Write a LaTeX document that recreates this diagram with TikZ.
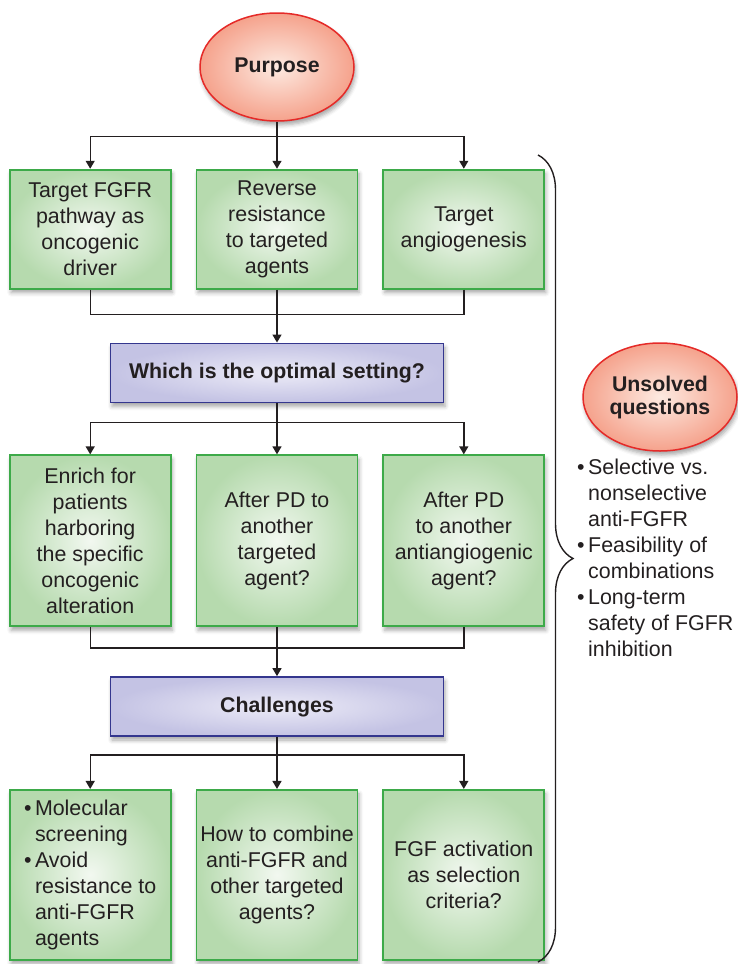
\documentclass[tikz,border=0pt]{standalone}
\usepackage{fontspec}
\setmainfont{Liberation Sans}
\usepackage{xcolor}
\usetikzlibrary{shapes.geometric, arrows.meta, positioning, shadows.blur, decorations.pathreplacing}

\definecolor{inkc}{RGB}{35,31,32}
\definecolor{greenedge}{RGB}{61,170,73}
\definecolor{greenin}{RGB}{242,248,240}
\definecolor{greenout}{RGB}{182,218,174}
\definecolor{violetedge}{RGB}{52,54,142}
\definecolor{violetin}{RGB}{236,235,247}
\definecolor{violetout}{RGB}{196,195,228}
\definecolor{rededge}{RGB}{229,42,40}
\definecolor{redin}{RGB}{253,234,225}
\definecolor{redout}{RGB}{245,162,140}

\newcommand{\qbullet}{\makebox[11pt][l]{\textbullet}}
\newcommand{\qindent}{\hspace*{11pt}}

\begin{document}
\begin{tikzpicture}[
  node distance=51pt and 24pt,
  every node/.style={text=inkc, font=\fontsize{21.4pt}{26pt}\selectfont},
  soft/.style={blur shadow={shadow xshift=1.5pt, shadow yshift=-4pt, shadow blur radius=4pt, shadow opacity=35}},
  box/.style={draw=greenedge, line width=1.8pt, shading=radial, inner color=greenin, outer color=greenout, minimum width=161pt, align=center, inner sep=2pt, soft},
  qbox/.style={draw=violetedge, line width=1.8pt, shading=radial, inner color=violetin, outer color=violetout, minimum width=333pt, minimum height=59pt, font=\fontsize{21.3pt}{23pt}\selectfont\bfseries, soft},
  oval/.style={ellipse, draw=rededge, line width=1.5pt, shading=radial, inner color=redin, outer color=redout, minimum width=154pt, minimum height=108pt, align=center, inner sep=0pt, font=\fontsize{21.3pt}{23pt}\selectfont\bfseries, soft},
  arr/.style={-{Triangle[width=9pt,length=8pt]}, line width=1.4pt, draw=inkc},
  link/.style={line width=1.4pt, draw=inkc},
  brace/.style={decorate, decoration={brace, amplitude=35pt}, line width=1.4pt, draw=inkc}
]
\useasboundingbox (0,0) rectangle (738pt,-964pt);

\node[oval] (purpose) at (277pt,-67pt) {Purpose};

\node[box, minimum height=119pt, below=47pt of purpose] (t2) {Reverse\\resistance\\to targeted\\agents};
\node[box, minimum height=119pt, left=of t2] (t1) {Target FGFR\\pathway as\\oncogenic\\driver};
\node[box, minimum height=119pt, right=of t2] (t3) {Target\\angiogenesis};

\node[qbox, below=53pt of t2] (setting) {Which is the optimal setting?};

\node[box, minimum height=171pt, below=of setting] (r2) {After PD to\\another\\targeted\\agent?};
\node[box, minimum height=171pt, left=of r2] (r1) {Enrich for\\patients\\harboring\\the specific\\oncogenic\\alteration};
\node[box, minimum height=171pt, right=of r2] (r3) {After PD\\to another\\antiangiogenic\\agent?};

\node[qbox, below=49pt of r2] (challenges) {Challenges};

\node[box, minimum height=170pt, below=52pt of challenges] (c2) {How to combine\\anti-FGFR and\\other targeted\\agents?};
\node[box, minimum height=170pt, left=of c2, align=left] (c1) {\qbullet Molecular\\\qindent screening\\\qbullet Avoid\\\qindent resistance to\\\qindent anti-FGFR\\\qindent agents};
\node[box, minimum height=170pt, right=of c2] (c3) {FGF activation\\as selection\\criteria?};

\coordinate[below=15pt of purpose] (split1);
\coordinate[below=25pt of t2] (join1);
\coordinate[below=19pt of setting] (split2);
\coordinate[below=21pt of r2] (join2);
\coordinate[below=18pt of challenges] (split3);

\draw[arr] (purpose) -- (t2);
\draw[arr] (split1) -| (t1);
\draw[arr] (split1) -| (t3);
\draw[link] (t1) |- (join1);
\draw[link] (t3) |- (join1);
\draw[arr] (t2) -- (setting);

\draw[arr] (setting) -- (r2);
\draw[arr] (split2) -| (r1);
\draw[arr] (split2) -| (r3);
\draw[link] (r1) |- (join2);
\draw[link] (r3) |- (join2);
\draw[arr] (r2) -- (challenges);

\draw[arr] (challenges) -- (c2);
\draw[arr] (split3) -| (c1);
\draw[arr] (split3) -| (c3);

\coordinate (bracetop) at (538pt,-155pt);
\coordinate (bracebot) at (538pt,-962pt);
\draw[brace] (bracetop) -- (bracebot);

\node[oval] (unsolved) at (660pt,-397pt) {Unsolved\\questions};
\node[align=left, anchor=north west, inner sep=0pt] (questions) at (577pt,-459pt)
  {\qbullet Selective vs.\\\qindent nonselective\\\qindent anti-FGFR\\\qbullet Feasibility of\\\qindent combinations\\\qbullet Long-term\\\qindent safety of FGFR\\\qindent inhibition};
\end{tikzpicture}
\end{document}
